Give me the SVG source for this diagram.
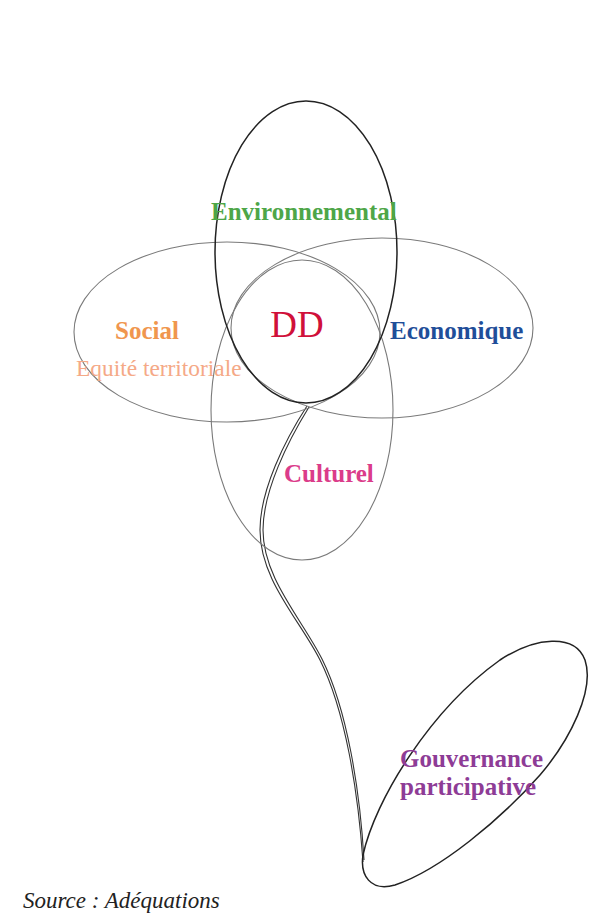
<svg xmlns="http://www.w3.org/2000/svg" width="611" height="915" viewBox="0 0 611 915">
<style>
.petal{fill:none;stroke:#7a7a7a;stroke-width:1.1}
.dark{fill:none;stroke:#222;stroke-width:1.5}
.stem{fill:none;stroke:#333;stroke-width:1.1}
text{font-family:"Liberation Serif","Times New Roman",serif}
.b{font-weight:bold;font-size:25px}
</style>
<rect width="611" height="915" fill="#fff"/>
<g id="connectors">
<path class="stem" d="M307,406 C285,440 260,490 260,530 C260,580 300,620 320,660 C345,710 358,790 363,862"/>
<path class="stem" d="M309,407 C288,441 263,491 263,530 C263,578 302,619 322,659 C347,709 360,790 364,860"/>
</g>
<g id="social"><ellipse class="petal" cx="227" cy="332" rx="153" ry="90"/>
<text class="b" x="147" y="339" fill="#F0964E" text-anchor="middle">Social</text>
<text x="76" y="376" font-size="23.4" fill="#F5A987">Equité territoriale</text></g>
<g id="economique"><ellipse class="petal" cx="382" cy="328" rx="151" ry="90"/>
<text class="b" x="390" y="339" fill="#1F4E99">Economique</text></g>
<g id="culturel"><ellipse class="petal" cx="302" cy="410" rx="91" ry="150"/>
<text class="b" x="284" y="482" fill="#DB3C8A">Culturel</text></g>
<g id="environnemental"><ellipse class="dark" cx="306" cy="252" rx="91" ry="151"/>
<text class="b" x="211" y="220" fill="#4EA648">Environnemental</text></g>
<g id="dd"><text x="297" y="337" font-size="37" fill="#D0103A" text-anchor="middle">DD</text></g>
<g id="gouvernance">
<path class="dark" stroke-width="1.3" d="M363,855 C375,800 430,710 500,660 C535,637 575,633 585,660 C595,690 570,740 540,775 C500,820 440,870 395,885 C370,892 360,875 363,855 Z"/>
<text class="b" fill="#8E3C96"><tspan x="400" y="767">Gouvernance</tspan><tspan x="400" y="795">participative</tspan></text>
</g>
<text x="23" y="908" font-size="23" font-style="italic" fill="#222">Source : Adéquations</text>
</svg>
